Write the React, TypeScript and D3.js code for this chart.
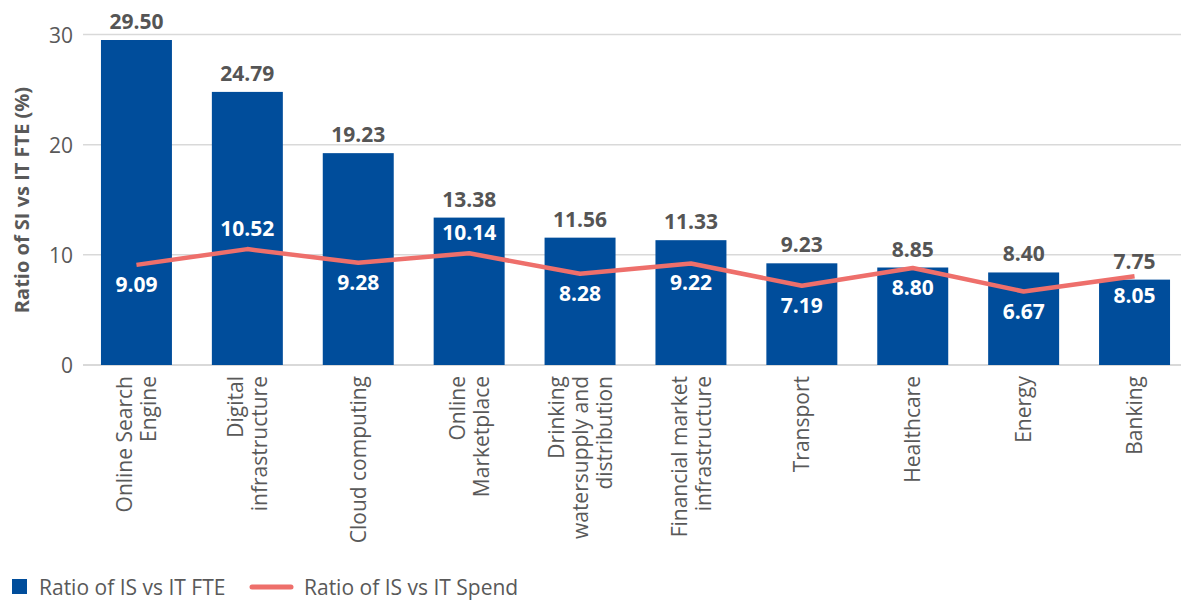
import React from "react";
import * as d3 from "d3";

const categories: string[][] = [
  ["Online Search", "Engine"],
  ["Digital", "infrastructure"],
  ["Cloud computing"],
  ["Online", "Marketplace"],
  ["Drinking", "watersupply and", "distribution"],
  ["Financial market", "infrastructure"],
  ["Transport"],
  ["Healthcare"],
  ["Energy"],
  ["Banking"],
];
const fteValues = [29.5, 24.79, 19.23, 13.38, 11.56, 11.33, 9.23, 8.85, 8.4, 7.75];
const spendValues = [9.09, 10.52, 9.28, 10.14, 8.28, 9.22, 7.19, 8.8, 6.67, 8.05];
const yTicks = [0, 10, 20, 30];
const seriesNames = ["Ratio of IS vs IT FTE", "Ratio of IS vs IT Spend"];
const yTitle = "Ratio of SI vs IT FTE (%)";

const W = 1181;
const H = 601;
const FONT = "'Open Sans', sans-serif";
const BLUE = "#004d9b";
const RED = "#ee6f6b";
const GRID = "#d9d9d9";
const TEXT = "#595959";

export default function App() {
  const keys = categories.map((c) => c.join(" "));
  const x = d3
    .scaleBand<string>()
    .domain(keys)
    .range([81, 1190])
    .paddingInner(0.36)
    .paddingOuter(0.18);
  const y = d3.scaleLinear().domain([0, 30]).range([365, 34.5]);
  const cx = (i: number) => (x(keys[i]) as number) + x.bandwidth() / 2;

  const line = d3
    .line<number>()
    .x((_, i) => cx(i))
    .y((d) => y(d));

  return (
    <svg
      width={W}
      height={H}
      style={{ position: "absolute", left: 0, top: 0, display: "block", background: "#fff" }}
      fontFamily={FONT}
    >
      {/* grid */}
      {yTicks.map((t) => (
        <g key={t}>
          <line x1={83} x2={W} y1={y(t)} y2={y(t)} stroke={GRID} strokeWidth={t === 0 ? 2 : 1.5} />
          <text x={73} y={y(t)} textAnchor="end" dominantBaseline="central" fontSize={21} fill={TEXT}>
            {t}
          </text>
        </g>
      ))}
      {/* y title */}
      <text
        transform={`translate(29,200) rotate(-90)`}
        textAnchor="middle"
        fontSize={20}
        fontWeight="bold"
        fill={TEXT}
      >
        {yTitle}
      </text>
      {/* bars */}
      {fteValues.map((v, i) => (
        <rect
          key={i}
          x={x(keys[i])}
          y={y(v)}
          width={x.bandwidth()}
          height={y(0) - y(v)}
          fill={BLUE}
        />
      ))}
      {/* bar labels */}
      {fteValues.map((v, i) => (
        <text
          key={i}
          x={cx(i)}
          y={y(v) - 11}
          textAnchor="middle"
          fontSize={21}
          fontWeight="bold"
          fill="#555"
        >
          {v.toFixed(2)}
        </text>
      ))}
      {/* line */}
      <path d={line(spendValues) || ""} fill="none" stroke={RED} strokeWidth={4.5} strokeLinejoin="round" />
      {spendValues.map((v, i) => (
        <text
          key={i}
          x={cx(i)}
          y={v > 10 ? y(v) - 13 : y(v) + 27}
          textAnchor="middle"
          fontSize={21}
          fontWeight="bold"
          fill="#fff"
        >
          {v.toFixed(2)}
        </text>
      ))}
      {/* x labels */}
      {categories.map((lines, i) => (
        <g key={i} transform={`translate(${cx(i)},376) rotate(-90)`}>
          {lines.map((l, j) => (
            <text
              key={j}
              x={0}
              y={(j - (lines.length - 1) / 2) * 24}
              dy="0.36em"
              textAnchor="end"
              fontSize={21}
              fill={TEXT}
            >
              {l}
            </text>
          ))}
        </g>
      ))}
      {/* legend */}
      <rect x={12} y={579} width={15} height={15} fill={BLUE} />
      <text x={39} y={587} dominantBaseline="central" fontSize={21} fill={TEXT}>
        {seriesNames[0]}
      </text>
      <line x1={252} x2={291} y1={587} y2={587} stroke={RED} strokeWidth={5} strokeLinecap="round" />
      <text x={304} y={587} dominantBaseline="central" fontSize={21} fill={TEXT}>
        {seriesNames[1]}
      </text>
    </svg>
  );
}
